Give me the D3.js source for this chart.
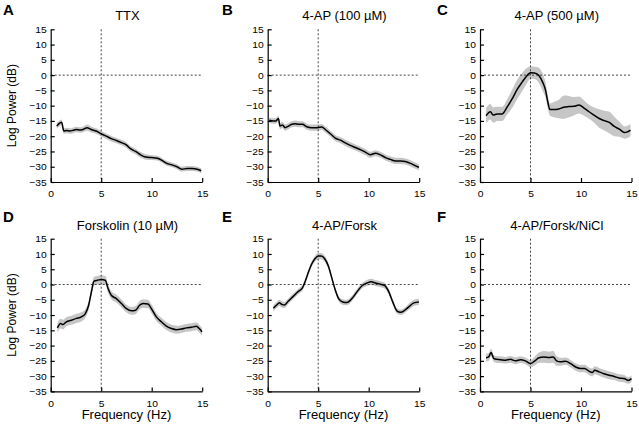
<!DOCTYPE html>
<html><head><meta charset="utf-8">
<script src="https://cdn.jsdelivr.net/npm/d3@7"></script>
<style>
body{margin:0;background:#fff}
svg{display:block}
text{font-family:"Liberation Sans",Arial,Helvetica,sans-serif;fill:#000}
</style>
</head><body>
<svg id="chart" width="639" height="429"></svg>
<script>
// ---------- data ----------
const panelLetters = ["A","B","C","D","E","F"];
const panelTitles = ["TTX","4-AP (100 \u00b5M)","4-AP (500 \u00b5M)","Forskolin (10 \u00b5M)","4-AP/Forsk","4-AP/Forsk/NiCl"];
const xTicks = [0,5,10,15];
const yTicks = [15,10,5,0,-5,-10,-15,-20,-25,-30,-35];

const freqA  = [0.6,0.82,1.08,1.3,1.57,1.9,2.2,2.55,2.9,3.2,3.6,4.0,4.5,5.0,5.5,6.0,6.5,7.0,7.45,7.9,8.4,8.9,9.4,10.0,10.55,11.05,11.5,12.0,12.5,13.0,13.5,14.0,14.5,14.9];
const powerA = [-16.7,-15.9,-15.4,-18.3,-18.1,-18.3,-18.1,-17.8,-18.0,-17.8,-17.2,-17.8,-18.3,-19.2,-20.0,-20.8,-21.4,-22.1,-22.8,-24.1,-25.0,-26.1,-26.8,-27.0,-27.2,-28.0,-28.9,-29.4,-30.0,-30.8,-30.6,-30.6,-30.8,-31.3];
const semA   = [0.9,0.9,0.9,0.9,0.9,0.9,0.9,0.9,0.9,0.9,1.0,1.0,0.9,0.9,0.9,0.9,0.9,0.9,0.9,0.9,0.9,0.9,0.9,0.8,0.8,0.8,0.8,0.8,0.8,0.8,0.8,0.8,0.8,0.8];

const freqB  = [0.15,0.56,0.8,1.06,1.22,1.46,1.72,2.05,2.38,2.7,3.05,3.44,3.87,4.37,4.93,5.36,5.7,6.2,6.69,7.19,7.68,8.18,8.68,9.17,9.67,10.17,10.66,11.16,11.66,12.15,12.65,13.15,13.64,14.14,14.64,14.97];
const powerB = [-14.8,-15.0,-15.0,-14.2,-16.7,-16.3,-17.2,-16.7,-16.1,-15.9,-16.1,-16.1,-16.9,-17.2,-17.2,-17.0,-17.8,-19.2,-20.6,-21.3,-22.2,-23.0,-23.7,-24.4,-25.2,-26.1,-25.6,-26.1,-27.0,-27.6,-28.1,-28.1,-28.3,-28.9,-29.7,-30.2];
const semB   = [0.9,0.9,0.9,1.0,1.0,1.0,1.0,1.0,1.0,1.0,1.0,1.0,1.0,1.0,1.0,1.0,1.0,1.0,1.0,1.0,1.0,1.0,1.0,1.0,1.0,1.0,1.0,1.0,1.0,1.0,1.0,1.0,1.0,1.0,1.0,1.0];

const freqC  = [0.6,1.03,1.3,1.7,2.2,2.68,3.18,3.68,4.17,4.67,5.0,5.4,5.83,6.2,6.5,6.72,6.92,7.3,7.8,8.3,8.8,9.3,9.8,10.3,10.8,11.3,11.8,12.3,12.8,13.3,13.8,14.3,14.6,14.9];
const powerC = [-13.3,-12.0,-13.1,-12.7,-12.7,-10.5,-7.8,-4.7,-2.3,-0.1,0.8,0.7,-0.1,-2.3,-5.1,-8.9,-11.3,-11.3,-11.1,-10.5,-10.3,-10.2,-9.8,-10.8,-12.0,-13.1,-14.2,-14.9,-15.5,-16.8,-17.7,-18.8,-18.6,-18.0];
const semC   = [2.5,2.5,2.5,2.3,2.3,2.5,3.0,3.2,3.0,2.5,2.0,2.0,2.5,2.8,2.5,2.0,2.0,2.5,3.0,3.8,3.5,3.0,2.8,2.5,2.3,2.5,3.0,3.2,3.5,3.2,2.5,2.0,2.0,2.0];

const freqD  = [0.66,0.99,1.22,1.55,2.05,2.54,3.04,3.43,3.76,4.03,4.29,4.62,5.0,5.4,5.68,6.0,6.5,7.0,7.5,8.0,8.4,8.8,9.14,9.64,9.97,10.46,10.96,11.45,11.95,12.44,12.94,13.43,13.93,14.42,14.75,14.98];
const powerD = [-14.2,-12.8,-13.1,-12.2,-11.7,-11.1,-10.6,-9.5,-6.8,-2.4,1.1,1.4,1.6,1.4,-1.3,-3.5,-4.6,-6.2,-7.9,-8.6,-8.4,-6.8,-6.2,-6.4,-7.9,-10.6,-12.2,-13.6,-14.4,-14.8,-14.6,-14.2,-14.0,-13.7,-14.6,-15.5];
const semD   = [1.6,1.6,1.6,1.5,1.5,1.5,1.5,1.4,1.4,1.4,1.4,1.4,1.4,1.4,1.4,1.3,1.3,1.3,1.3,1.3,1.3,1.4,1.4,1.4,1.4,1.3,1.3,1.3,1.3,1.3,1.3,1.3,1.3,1.3,1.3,1.3];

const freqE  = [0.56,0.89,1.16,1.39,1.66,2.05,2.55,3.05,3.44,3.7,4.04,4.37,4.7,5.03,5.3,5.63,6.03,6.36,6.69,7.02,7.42,7.85,8.34,8.84,9.34,9.83,10.26,10.66,11.16,11.59,11.99,12.38,12.81,13.15,13.58,13.97,14.47,14.97];
const powerE = [-7.8,-6.7,-6.0,-6.5,-6.7,-5.4,-3.8,-2.2,-1.1,0.9,4.1,6.8,8.5,9.3,9.3,8.5,5.8,2.0,-1.8,-4.6,-5.7,-5.9,-4.6,-2.4,-0.4,0.5,0.9,0.5,0.1,-0.4,-2.4,-5.7,-8.7,-9.1,-8.4,-7.3,-6.0,-5.7];
const semE   = [1.0,1.0,1.0,1.0,1.0,0.9,0.9,0.9,0.9,0.9,0.9,0.9,1.0,1.0,1.0,1.0,0.9,0.9,0.9,0.9,0.9,0.9,0.9,0.9,0.9,1.0,1.0,1.0,1.0,1.0,0.9,0.9,0.9,0.9,0.9,1.0,1.0,1.0];

const freqF  = [0.6,0.86,1.09,1.36,1.62,2.02,2.52,3.01,3.51,4.0,4.5,5.0,5.4,5.83,6.32,6.82,7.25,7.58,7.98,8.48,8.97,9.47,9.97,10.36,10.8,11.13,11.36,11.79,12.28,12.78,13.28,13.77,14.27,14.67,15.0];
const powerF = [-24.0,-23.7,-22.3,-24.2,-24.5,-24.6,-24.8,-24.5,-25.0,-24.6,-25.0,-25.9,-25.1,-24.0,-23.7,-23.9,-23.7,-25.0,-25.3,-25.1,-25.9,-27.0,-27.5,-27.5,-28.4,-28.8,-28.1,-28.6,-29.2,-29.7,-30.1,-30.6,-30.8,-31.4,-30.8];
const semF   = [1.3,1.3,1.3,1.1,1.1,1.1,1.1,1.1,1.1,1.1,1.1,1.2,1.4,1.7,1.9,1.9,1.9,1.6,1.3,1.2,1.2,1.2,1.2,1.2,1.2,1.3,1.3,1.3,1.3,1.3,1.2,1.2,1.2,1.1,1.1];

// ---------- layout ----------
const colLeft = [50.7, 267.7, 480];
const rowTop  = [29.3, 238.7];
const W = 151.5, H = 152.7;
const SY = 0.93;
const letterX = [3, 222, 437];
const letterY = [15, 221.5];

const series = [
  {f:freqA,p:powerA,s:semA},{f:freqB,p:powerB,s:semB},{f:freqC,p:powerC,s:semC},
  {f:freqD,p:powerD,s:semD},{f:freqE,p:powerE,s:semE},{f:freqF,p:powerF,s:semF}
];

const svg = d3.select("#chart");
const x = d3.scaleLinear().domain([0,15]).range([0,W]);
const y = d3.scaleLinear().domain([-35,15]).range([H,0]);

series.forEach((d,i)=>{
  const col = i%3, row = Math.floor(i/3);
  const g = svg.append("g").attr("transform",`translate(${colLeft[col]},${rowTop[row]})`);
  const pts = d.f.map((f,k)=>({f, p:d.p[k], s:d.s[k]}));

  g.append("path").datum(pts)
    .attr("fill","#c6c6c6").attr("stroke","none")
    .attr("d", d3.area().x(v=>x(v.f)).y0(v=>y(v.p - v.s)).y1(v=>y(v.p + v.s)).curve(d3.curveMonotoneX));

  g.append("line").attr("x1",0).attr("x2",W).attr("y1",y(0)).attr("y2",y(0))
    .attr("stroke","#444").attr("stroke-width",1).attr("stroke-dasharray","2,2");
  g.append("line").attr("x1",x(5)).attr("x2",x(5)).attr("y1",0).attr("y2",H)
    .attr("stroke","#444").attr("stroke-width",1).attr("stroke-dasharray","2,2");

  g.append("path").datum(pts)
    .attr("fill","none").attr("stroke","#000").attr("stroke-width",1.5)
    .attr("d", d3.line().x(v=>x(v.f)).y(v=>y(v.p)).curve(d3.curveMonotoneX));

  const ya = g.append("g").call(d3.axisLeft(y).tickValues(yTicks).tickSizeInner(-4).tickSizeOuter(0).tickPadding(4));
  const xa = g.append("g").attr("transform",`translate(0,${H})`)
    .call(d3.axisBottom(x).tickValues(xTicks).tickSizeInner(-4).tickSizeOuter(0).tickPadding(9));
  [ya,xa].forEach(a=>{
    a.attr("font-family",null).attr("font-size",null);
    a.select(".domain").attr("stroke","#000").attr("stroke-width",1.2);
    a.selectAll(".tick line").attr("stroke","#000").attr("stroke-width",1.2);
    a.selectAll(".tick text").style("font-size","10.3px").attr("fill","#000")
      .attr("transform",`scale(1,${SY})`);
  });

  svg.append("text")
    .attr("transform",`translate(${colLeft[col]+W/2+1},${rowTop[row]-9}) scale(1,${SY})`)
    .attr("text-anchor","middle").style("font-size","13px").text(panelTitles[i]);

  svg.append("text")
    .attr("transform",`translate(${letterX[col]},${letterY[row]}) scale(1,${SY})`)
    .style("font-size","15px").style("font-weight","bold").text(panelLetters[i]);

  if (col===0) {
    svg.append("text")
      .attr("transform",`translate(16,${rowTop[row]+H/2}) rotate(-90)`)
      .attr("text-anchor","middle").style("font-size","12px").text("Log Power (dB)");
  }
  if (row===1) {
    svg.append("text")
      .attr("transform",`translate(${colLeft[col]+W/2},419) scale(1,${SY})`)
      .attr("text-anchor","middle").style("font-size","13px").text("Frequency (Hz)");
  }
});
</script>
</body></html>
